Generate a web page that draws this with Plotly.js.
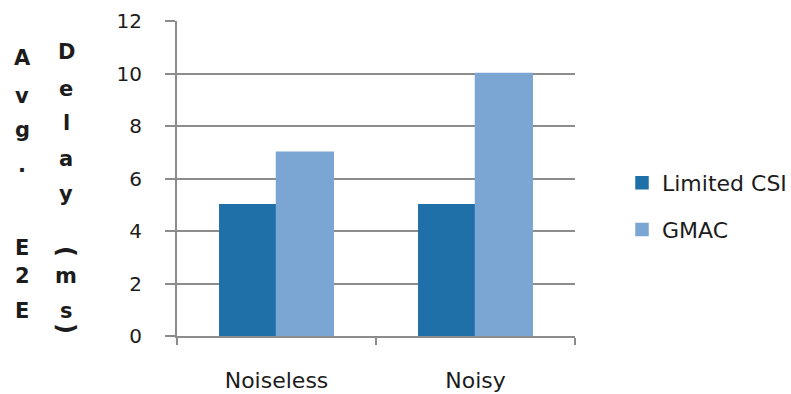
<!DOCTYPE html>
<html>
<head>
<meta charset="utf-8">
<script src="https://cdn.plot.ly/plotly-3.0.1.min.js"></script>
<style>html,body{margin:0;padding:0;background:#fff;}#chart{width:791px;height:394px;}</style>
</head>
<body>
<div id="chart"></div>
<script>
const categories = ["Noiseless", "Noisy"];
const limitedCSI = [5, 5];
const gmac = [7, 10];
const seriesNames = ["Limited CSI", "GMAC"];
const yTitleCol1 = ["A", "v", "g", ".", "E", "2", "E"];
const yTitleCol2 = ["D", "e", "l", "a", "y", "(", "m", "s", ")"];

const W = 791, H = 394;
const L = 177, R = 216, T = 21, B = 58;
const pw = W - L - R, ph = H - T - B;
const px = x => (x - L) / pw;
const py = y => (H - B - y) / ph;

const FONT = "'DejaVu Sans', sans-serif";
const TXT = "#1c1c1c";
const GRID = "#8c8c8c";

// pixel centres of the stacked title characters
const col1Y = [58, 96, 130, 165, 248, 276, 311];
const col2Y = [52, 89, 123, 159, 194, 251, 276, 311, 328];

const annotations = [];
yTitleCol1.forEach((c, i) => {
  annotations.push({text: "<b>" + c + "</b>", xref: "paper", yref: "paper",
    x: px(22), y: py(col1Y[i]), xanchor: "center", yanchor: "middle",
    showarrow: false, font: {family: FONT, size: 21, color: TXT}});
});
yTitleCol2.forEach((c, i) => {
  const paren = (c === "(" || c === ")");
  annotations.push({text: "<b>" + c + "</b>", xref: "paper", yref: "paper",
    x: px(66), y: py(col2Y[i]), xanchor: "center", yanchor: "middle",
    textangle: paren ? 90 : 0,
    showarrow: false, font: {family: FONT, size: paren ? 24 : 21, color: TXT}});
});

const data = [
  {type: "bar", name: seriesNames[0], x: categories, y: limitedCSI,
   marker: {color: "#1f70a9", line: {color: "#1f70a9", width: 1.5}}, legendgroup: "a"},
  {type: "bar", name: seriesNames[1], x: categories, y: gmac,
   marker: {color: "#7ba6d3", line: {color: "#7ba6d3", width: 1.5}}, legendgroup: "b"}
];

const layout = {
  width: W, height: H,
  margin: {l: L, r: R, t: T, b: B, pad: 0, autoexpand: false},
  paper_bgcolor: "#fff", plot_bgcolor: "#fff",
  barmode: "group", bargap: 0.43, bargroupgap: 0,
  font: {family: FONT, size: 20, color: TXT},
  showlegend: true,
  legend: {x: px(622), y: py(162), xanchor: "left", yanchor: "top",
    font: {family: FONT, size: 22, color: TXT}, tracegroupgap: 15,
    traceorder: "grouped", bgcolor: "rgba(0,0,0,0)"},
  xaxis: {type: "category", showline: true, linecolor: GRID, linewidth: 2,
    ticks: "outside", tickson: "boundaries", ticklen: 7, tickcolor: GRID, tickwidth: 2,
    showgrid: false, zeroline: false, ticklabelstandoff: 24,
    tickfont: {family: FONT, size: 22, color: TXT}, fixedrange: true},
  yaxis: {range: [0, 12], dtick: 2, tick0: 0, showline: true, linecolor: GRID, linewidth: 2,
    ticks: "outside", ticklen: 10, tickcolor: GRID, tickwidth: 2,
    showgrid: true, gridcolor: GRID, gridwidth: 2, zeroline: false,
    ticklabelstandoff: 19,
    tickfont: {family: FONT, size: 20, color: TXT}, fixedrange: true},
  annotations: annotations
};

Plotly.newPlot("chart", data, layout, {displayModeBar: false, staticPlot: true});
</script>
</body>
</html>
